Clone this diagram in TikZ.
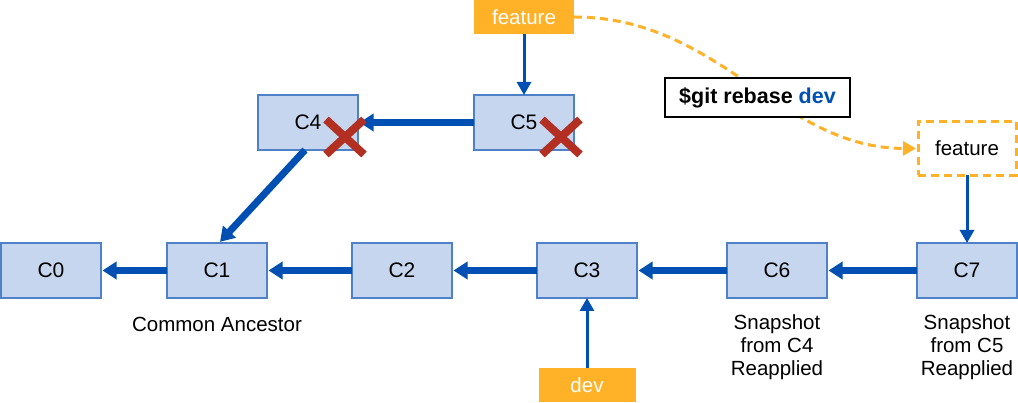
\documentclass[tikz,border=0pt]{standalone}
\usepackage{fontspec}
\setmainfont{Liberation Sans}
\usetikzlibrary{arrows.meta, positioning, calc}
\definecolor{commitfill}{HTML}{C5D6EE}
\definecolor{commitdraw}{HTML}{4F81C8}
\definecolor{gitblue}{HTML}{0050B4}
\definecolor{branchorange}{HTML}{FFB128}
\definecolor{crossred}{HTML}{B32F22}

\begin{document}
\begin{tikzpicture}[x=1pt, y=-1pt, font=\fontsize{20.5}{23}\selectfont]
\tikzstyle{commit}=[draw=commitdraw, fill=commitfill, line width=1.2pt, minimum width=100pt, minimum height=55pt, inner sep=0pt, outer sep=0pt, font=\fontsize{21}{24}\selectfont]
\tikzstyle{branch}=[fill=branchorange, text=white, minimum width=100pt, minimum height=34pt, inner sep=0pt, outer sep=0pt]
\tikzstyle{parent}=[draw=gitblue, line width=7pt, -{Triangle[length=14pt,width=17pt]}, shorten >=1.5pt]
\tikzstyle{pointer}=[draw=gitblue, line width=3pt, -{Triangle[length=13pt,width=14pt]}]
\tikzstyle{rebase}=[draw=branchorange, line width=3pt, dash pattern=on 8pt off 5pt, -{Triangle[length=13pt,width=14pt]}, shorten >=2pt]
\tikzstyle{xmark}=[draw=crossred, line width=8pt]
\tikzstyle{note}=[align=center, inner sep=0pt]
\useasboundingbox (0,0) rectangle (1018,403);

% main line
\node[commit]                    (C0) at (51,270.5) {C0};
\node[commit, right=66pt of C0]  (C1) {C1};
\node[commit, right=85pt of C1]  (C2) {C2};
\node[commit, right=85pt of C2]  (C3) {C3};
\node[commit, right=90pt of C3]  (C6) {C6};
\node[commit, right=90pt of C6]  (C7) {C7};
% old feature commits
\node[commit]                    (C4) at (308,122.5) {C4};
\node[commit, right=116pt of C4] (C5) {C5};

% branches
\node[branch, above=61pt of C5]  (feature) {feature};
\node[branch, below=70pt of C3, minimum width=97pt] (dev) {dev};
\node[draw=branchorange, line width=3pt, dash pattern=on 8pt off 5pt, fill=white, outer sep=0pt,
      minimum width=98pt, minimum height=54pt, above=67.5pt of C7] (newfeature) {feature};

% labels
\node[note] (ancestor) at ([yshift=-26pt]C1.south) {Common Ancestor};
\node[note] (snapC6) at ([yshift=-49pt]C6.south) {Snapshot\\from C4\\Reapplied};
\node[note] (snapC7) at ([yshift=-49pt]C7.south) {Snapshot\\from C5\\Reapplied};

% parents
\draw[parent] (C1.west) -- (C0.east);
\draw[parent] (C2.west) -- (C1.east);
\draw[parent] (C3.west) -- (C2.east);
\draw[parent] (C6.west) -- (C3.east);
\draw[parent] (C7.west) -- (C6.east);
\draw[parent] (C5.west) -- (C4.east);
\draw[parent] ([xshift=-3pt]C4.south) -- ([xshift=2pt]C1.north);

% branch pointers
\draw[pointer] (feature) -- (C5);
\draw[pointer] (dev) -- (C3);
\draw[pointer] (newfeature) -- (C7);

% rebase move
\draw[rebase] (feature.east) .. controls (720,17) and (780,148) .. (newfeature.west);
\node[draw=black, line width=1.5pt, fill=white, minimum width=185pt, minimum height=39pt,
      inner sep=0pt, font=\fontsize{21.5}{24}\selectfont\bfseries] (cmd) at (757.5,97.5)
      {\$git rebase \textcolor{gitblue}{dev}};

% dropped commits
\foreach \c in {C4,C5} {
  \draw[xmark] ([shift={(18,-3)}]\c.center) -- ([shift={(56,32)}]\c.center);
  \draw[xmark] ([shift={(56,-3)}]\c.center) -- ([shift={(18,32)}]\c.center);
}
\end{tikzpicture}
\end{document}
